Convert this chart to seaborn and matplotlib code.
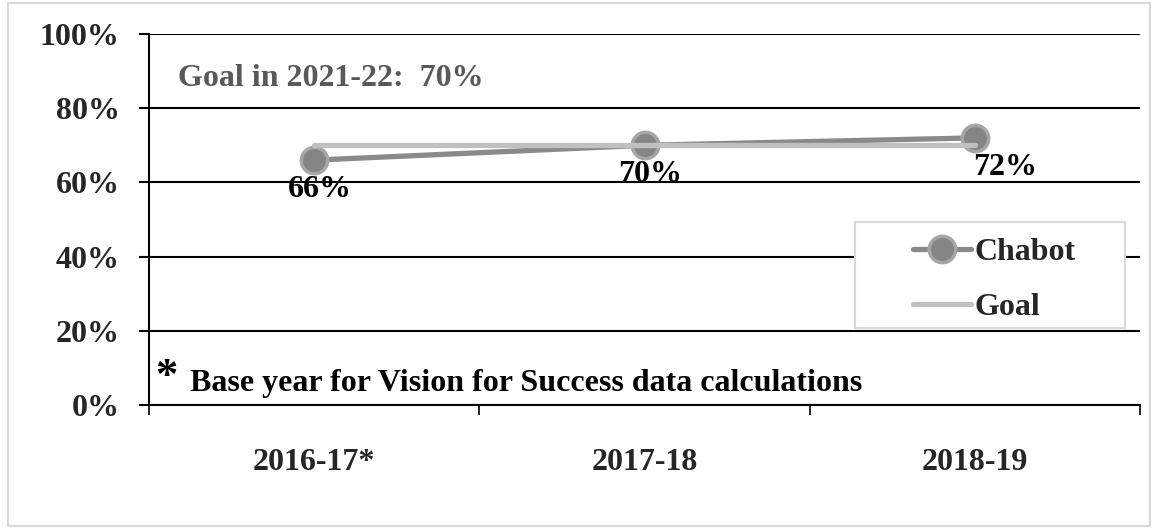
import pandas as pd
import seaborn as sns
import matplotlib.pyplot as plt
from matplotlib.patches import Rectangle
from matplotlib.ticker import FixedLocator

# data
years = ["2016-17*", "2017-18", "2018-19"]
chabot = [66, 70, 72]
goal = [70, 70, 70]
y_ticks = [0, 20, 40, 60, 80, 100]

df = pd.DataFrame({"year": years, "Chabot": chabot, "Goal": goal})
df["pos"] = range(len(years))

sns.set_theme(style="white")
plt.rcParams["font.family"] = ["Liberation Serif", "DejaVu Serif"]
plt.rcParams["font.weight"] = "bold"
FS = 23

fig = plt.figure(figsize=(11.58, 5.29), dpi=100)
ax = fig.add_axes([149 / 1158, 1 - 405 / 529, 991 / 1158, 371 / 529])

# outer chart border
fig.patches.append(Rectangle((8 / 1158, 3 / 529), 1142 / 1158, 523 / 529,
                             transform=fig.transFigure, fill=False,
                             edgecolor="#d9d9d9", linewidth=1.5))

sns.lineplot(data=df, x="pos", y="Chabot", ax=ax, color="#8a8a8a", lw=3.8,
             marker="o", markersize=19, markerfacecolor="#858585",
             markeredgecolor="#a6a6a6", markeredgewidth=2.5, label="Chabot",
             zorder=3)
sns.lineplot(data=df, x="pos", y="Goal", ax=ax, color="#c0c0c0", lw=3.8,
             label="Goal", zorder=4)

# data labels under the Chabot points
label_dx = [4, 4, 22]
for i, v in enumerate(chabot):
    ax.annotate(f"{v}%", (df["pos"][i], v), xytext=(label_dx[i], -21),
                textcoords="offset points", ha="center", va="center",
                fontsize=FS, fontweight="bold", color="black", zorder=5)

ax.set_xlim(-0.5, len(years) - 0.5)
ax.set_ylim(0, 100)
ax.set_yticks(y_ticks)
ax.set_yticklabels([f"{t}%" for t in y_ticks])
ax.set_xticks(df["pos"])
ax.set_xticklabels(years)
ax.xaxis.set_minor_locator(FixedLocator([-0.5, 0.5, 1.5, 2.5]))
ax.tick_params(axis="x", which="major", length=0, pad=31, labelsize=FS)
ax.tick_params(axis="x", which="minor", length=7, width=1.2, color="black",
               direction="out", bottom=True)
ax.tick_params(axis="y", length=7, width=1.5, color="black", direction="out",
               left=True, pad=14, labelsize=FS)
for lab in ax.get_xticklabels() + ax.get_yticklabels():
    lab.set_fontweight("bold")
ax.set_xlabel("")
ax.set_ylabel("")

ax.grid(axis="y", color="black", linewidth=1.5)
ax.grid(axis="x", visible=False)
ax.set_axisbelow(True)
for s in ["top", "right"]:
    ax.spines[s].set_visible(False)
for s in ["left", "bottom"]:
    ax.spines[s].set_color("black")
    ax.spines[s].set_linewidth(1.5)

ax.text(0.029, 0.881, "Goal in 2021-22:  70%", transform=ax.transAxes,
        ha="left", va="center", fontsize=FS, fontweight="bold", color="#595959")
ax.text(0.006, 0.075, "*", transform=ax.transAxes, ha="left", va="center",
        fontsize=32, fontweight="bold", color="black")
ax.text(0.041, 0.059, "Base year for Vision for Success data calculations",
        transform=ax.transAxes, ha="left", va="center", fontsize=FS,
        fontweight="bold", color="black")

# legend box, drawn separately so it can be wider than its entries
ax.add_patch(Rectangle((0.712, 0.208), 0.273, 0.285, transform=ax.transAxes,
                       facecolor="white", edgecolor="#d9d9d9", linewidth=1.5,
                       zorder=6))
leg = ax.legend(loc="center", bbox_to_anchor=(0.853, 0.338),
                fontsize=FS, handlelength=1.8, handletextpad=0.1,
                frameon=False, labelspacing=0.8, borderaxespad=0)
leg.set_zorder(7)
for t in leg.get_texts():
    t.set_fontweight("bold")

fig.savefig("out.png", dpi=100)
